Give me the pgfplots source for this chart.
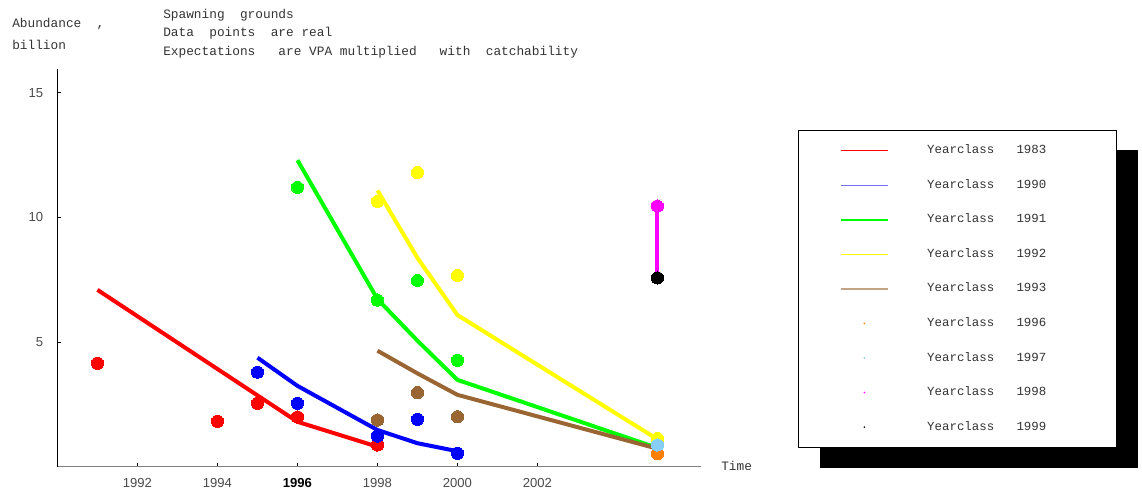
\documentclass[border=0pt]{standalone}
\usepackage{fontspec}
\setmainfont{Liberation Mono}
\setsansfont{Liberation Sans}
\usepackage{pgfplots}
\pgfplotsset{compat=1.18}

\pgfdeclarelayer{background}
\pgfsetlayers{background,main}

\definecolor{cRed}{RGB}{255,0,0}
\definecolor{cBlue}{RGB}{0,0,255}
\definecolor{cGreen}{RGB}{0,255,0}
\definecolor{cYellow}{RGB}{255,255,0}
\definecolor{cBrown}{RGB}{153,102,51}
\definecolor{cOrange}{RGB}{255,128,0}
\definecolor{cSky}{RGB}{135,206,250}
\definecolor{cMagenta}{RGB}{255,0,255}
\definecolor{cBlack}{RGB}{0,0,0}
% lighter tones used for the thin legend keys
\definecolor{kBlue}{RGB}{115,115,245}
\definecolor{kBrown}{RGB}{196,164,134}
\definecolor{txt}{HTML}{333333}
\definecolor{ticktxt}{HTML}{4A4A4A}

% legend label of fixed width, so the legend box gets its right margin
\newcommand{\yc}[1]{\makebox[111pt][l]{Yearclass\ \ \ #1}}
% legend symbols
\newcommand{\legline}[1]{\path[draw=#1, line width=1pt] (0pt,0pt) -- (35.25pt,0pt);}
\newcommand{\legdot}[1]{\path[draw=none, fill=none] (0pt,0pt) -- (35.25pt,0pt);
  \path[draw=none, fill=#1] (17.6pt,0pt) circle (0.7pt);}

\begin{document}
\begin{tikzpicture}
\path[use as bounding box] (0,0) rectangle (856.5pt,369pt);

\begin{axis}[
  at={(43.1pt,19pt)}, anchor=south west,
  scale only axis, width=483pt, height=298.3pt,
  xmin=1990, xmax=2006.1, ymin=0, ymax=15.95,
  clip=false,
  axis x line*=bottom, axis y line*=left,
  x axis line style={-, draw=gray, line width=0.8pt},
  y axis line style={-, draw=black, line width=0.8pt},
  xtick={1992,1994,1996,1998,2000,2002},
  xticklabels={1992,1994,{\color{black}\bfseries 1996},1998,2000,2002},
  ytick={5,10,15}, yticklabels={5,10,15},
  tick align=inside, major tick length=3pt,
  tick style={black, line width=0.6pt},
  ticklabel style={font=\sffamily\fontsize{9.8pt}{11pt}\selectfont, text=ticktxt, inner sep=0pt},
  xticklabel style={anchor=base, yshift=-16pt},
  yticklabel style={anchor=east, xshift=-10.5pt},
  legend cell align=left,
  legend style={
    name=leg,
    at={(1.1514,0.8459)}, anchor=north west,
    draw=none, fill=none,
    inner xsep=30.75pt, inner ysep=11pt,
    row sep=17.4pt, column sep=29pt,
    font=\fontsize{9.3pt}{11pt}\selectfont, text=txt,
    nodes={inner sep=0pt, text height=6.5pt, text depth=2pt},
  },
  every axis plot/.append style={line join=round},
  pts/.style={only marks, mark=*, mark size=4.6pt, color=#1, mark options={draw=#1, fill=#1, line width=0pt}},
  dots/.style={pts=#1, forget plot},
]

% Yearclass 1983
\addplot[cRed, line width=3pt, legend image code/.code={\legline{cRed}}]
  coordinates {(1991,7.09) (1996,1.80) (1998,0.80)};
\addlegendentry{\yc{1983}}
\addplot[dots=cRed] coordinates {(1991,4.15) (1994,1.82) (1995,2.54) (1996,1.99) (1998,0.87)};

% Yearclass 1990
\addplot[cBlue, line width=3pt, legend image code/.code={\legline{kBlue}}]
  coordinates {(1995,4.37) (1996,3.24) (1998,1.47) (1999,0.94) (2000,0.62)};
\addlegendentry{\yc{1990}}
\addplot[dots=cBlue] coordinates {(1995,3.79) (1996,2.54) (1998,1.23) (1999,1.90) (2000,0.54)};

% Yearclass 1991
\addplot[cGreen, line width=3pt, legend image code/.code={\legline{cGreen}}]
  coordinates {(1996,12.29) (1998,6.72) (1999,5.05) (2000,3.48) (2005,0.75)};
\addlegendentry{\yc{1991}}
\addplot[dots=cGreen] coordinates {(1996,11.2) (1998,6.68) (1999,7.47) (2000,4.27)};

% Yearclass 1992
\addplot[cYellow, line width=3pt, legend image code/.code={\legline{cYellow}}]
  coordinates {(1998,11.08) (1999,8.37) (2000,6.08) (2005,1.10)};
\addlegendentry{\yc{1992}}
\addplot[dots=cYellow] coordinates {(1998,10.64) (1999,11.80) (2000,7.67) (2005,1.13)};

% Yearclass 1993
\addplot[cBrown, line width=3pt, legend image code/.code={\legline{kBrown}}]
  coordinates {(1998,4.65) (1999,3.74) (2000,2.88) (2005,0.72)};
\addlegendentry{\yc{1993}}
\addplot[dots=cBrown] coordinates {(1998,1.87) (1999,2.97) (2000,2.00)};

% Yearclass 1996
\addplot[pts=cOrange, legend image code/.code={\legdot{cOrange}}]
  coordinates {(2005,0.52)};
\addlegendentry{\yc{1996}}

% Yearclass 1997
\addplot[pts=cSky, legend image code/.code={\legdot{cSky}}]
  coordinates {(2005,0.87)};
\addlegendentry{\yc{1997}}

% Yearclass 1998
\addplot[cMagenta, line width=3pt, legend image code/.code={\legdot{cMagenta}}]
  coordinates {(2005,10.45) (2005,7.57)};
\addlegendentry{\yc{1998}}
\addplot[dots=cMagenta] coordinates {(2005,10.45)};

% Yearclass 1999
\addplot[pts=cBlack, legend image code/.code={\legdot{cBlack}}]
  coordinates {(2005,7.57)};
\addlegendentry{\yc{1999}}

\end{axis}

% legend frame with its offset shadow, behind the legend entries
\begin{pgfonlayer}{background}
  \fill[black] ([xshift=15.75pt,yshift=-15pt]leg.south west) rectangle ([xshift=15.75pt,yshift=-15pt]leg.north east);
  \filldraw[fill=white, draw=black, line width=0.75pt] (leg.south west) rectangle (leg.north east);
\end{pgfonlayer}

% captions
\begin{scope}[every node/.style={anchor=base west, inner sep=0pt, text=txt,
    font=\fontsize{9.6pt}{12pt}\selectfont}]
  \node at (122.25pt,354.75pt) {Spawning\ \ grounds};
  \node at (122.25pt,341.65pt) {Data\ \ points\ \ are real};
  \node at (122.25pt,327pt) {Expectations\ \ \ are VPA multiplied\ \ \ with\ \ catchability};
  \node at (9pt,348pt) {Abundance\ \ ,};
  \node at (9pt,331.5pt) {billion};
  \node at (540.75pt,15.75pt) {Time};
\end{scope}
\end{tikzpicture}
\end{document}
